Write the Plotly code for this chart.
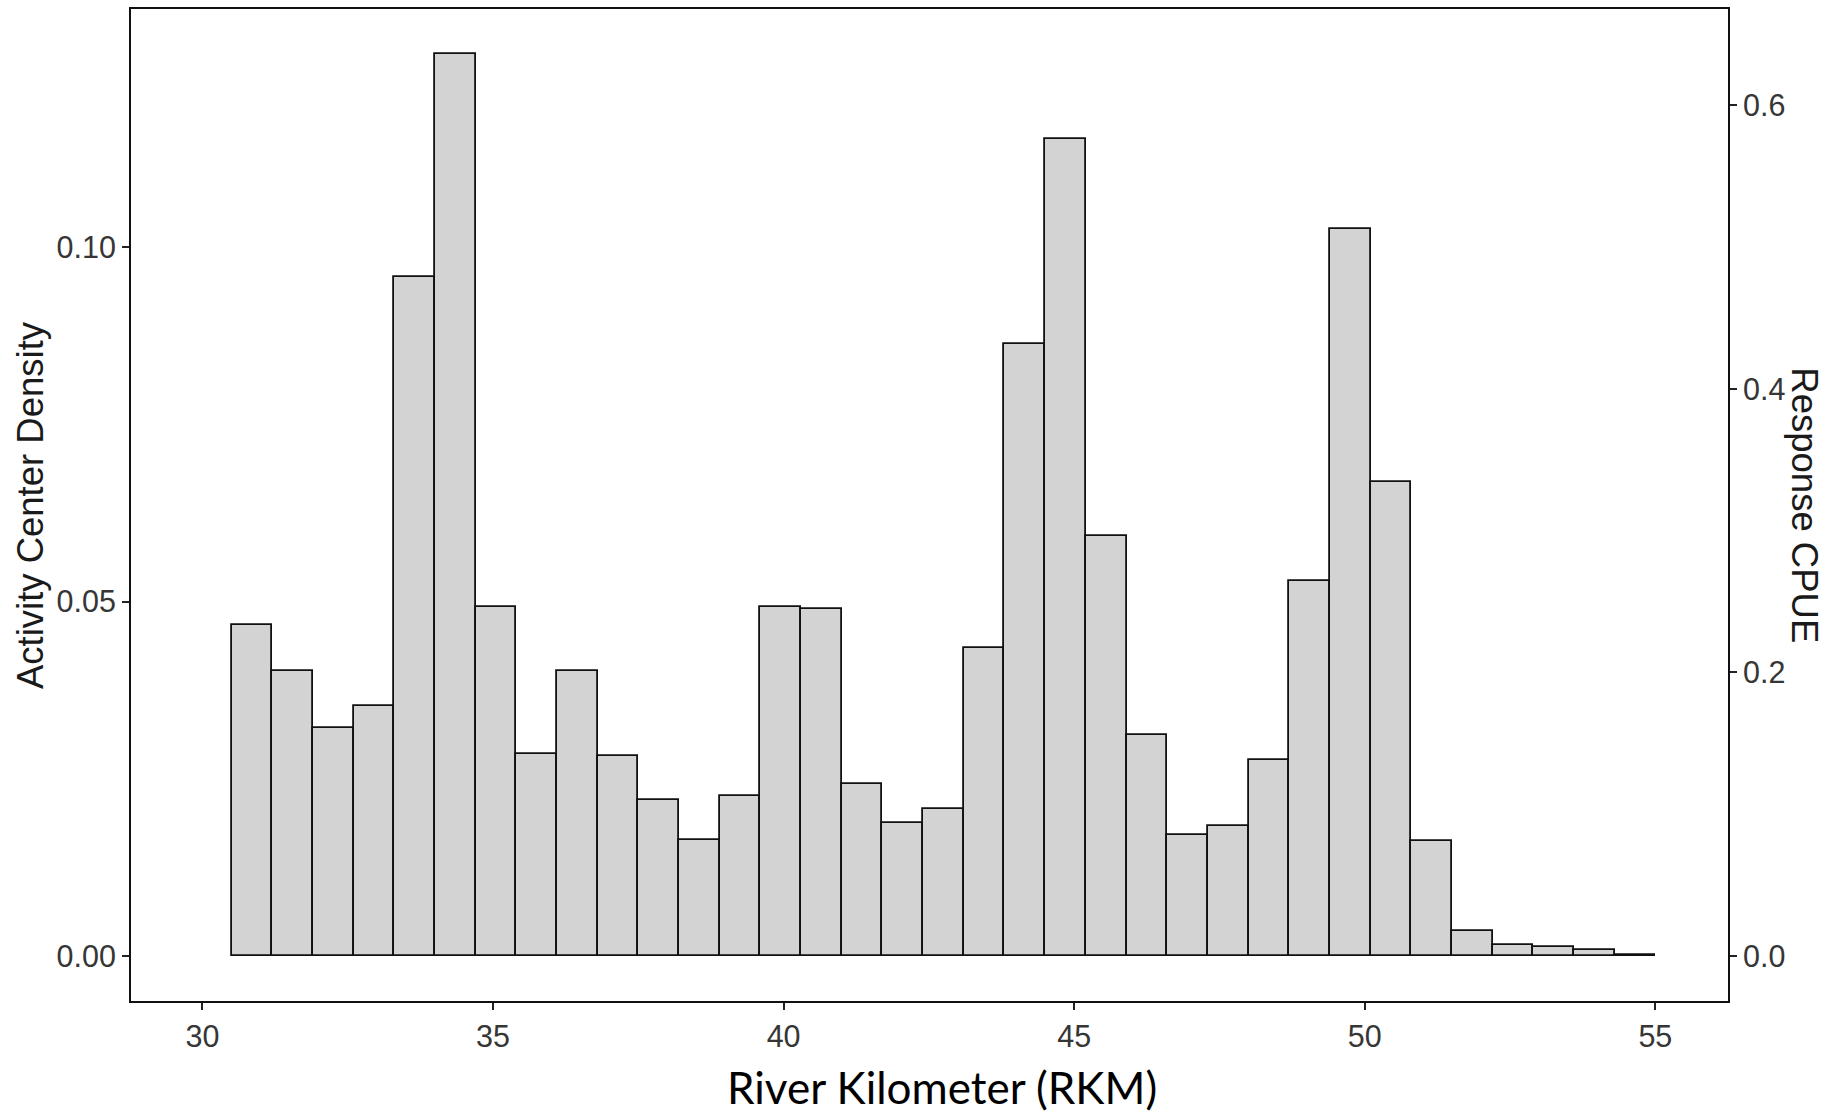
import plotly.graph_objects as go

# Histogram bins (lower edges, km) and densities
bin_left = [30.5, 31.2, 31.9, 32.6, 33.3, 34.0, 34.7, 35.4, 36.1, 36.8,
            37.5, 38.2, 38.9, 39.6, 40.3, 41.0, 41.7, 42.4, 43.1, 43.8,
            44.5, 45.2, 45.9, 46.6, 47.3, 48.0, 48.7, 49.4, 50.1, 50.8,
            51.5, 52.2, 52.9, 53.6, 54.3]
bin_width = 0.7
density = [0.0467, 0.0402, 0.0321, 0.0353, 0.0958, 0.1272, 0.0493, 0.0285, 0.0402, 0.0282,
           0.0220, 0.0164, 0.0226, 0.0493, 0.0490, 0.0243, 0.0188, 0.0207, 0.0435, 0.0864,
           0.1153, 0.0593, 0.0311, 0.0171, 0.0184, 0.0276, 0.0529, 0.1026, 0.0668, 0.0162,
           0.0035, 0.0016, 0.0012, 0.0009, 0.0002]

x_ticks = [30, 35, 40, 45, 50, 55]
y_ticks = [0.00, 0.05, 0.10]
y2_ticks = [0.0, 0.2, 0.4, 0.6]
sec_scale = 5  # Response CPUE = 5 x density

y_range = [-0.00636, 0.1336]
x_range = [28.77, 56.25]

tick_font = dict(family="Liberation Sans, Arial, sans-serif", size=30.5, color="#363636")
title_font = dict(family="Liberation Sans, Arial, sans-serif", size=36.5, color="#1a1a1a")

fig = go.Figure()
fig.add_trace(go.Bar(
    x=bin_left, y=density, width=bin_width, offset=0,
    marker=dict(color="#D3D3D3", line=dict(color="#111111", width=1.8)),
    showlegend=False, hoverinfo="skip",
))
# invisible trace to anchor secondary axis
fig.add_trace(go.Scatter(
    x=[x_range[0]], y=[0], yaxis="y2", mode="markers",
    marker=dict(opacity=0), showlegend=False, hoverinfo="skip",
))

axis_common = dict(
    showgrid=False, zeroline=False, showline=True, linecolor="#111111", linewidth=2,
    ticks="outside", ticklen=7, tickwidth=2, tickcolor="#222222", tickfont=tick_font,
)

fig.update_layout(
    width=1833, height=1112,
    margin=dict(l=131, r=105, t=7, b=111),
    paper_bgcolor="white", plot_bgcolor="white",
    bargap=0,
    xaxis=dict(range=x_range, tickvals=x_ticks, ticktext=[str(v) for v in x_ticks],
               mirror=True, **axis_common),
    yaxis=dict(range=y_range, tickvals=y_ticks, ticktext=[f"{v:.2f}" for v in y_ticks],
               mirror=True, **axis_common),
    yaxis2=dict(range=[v * sec_scale for v in y_range], tickvals=y2_ticks,
                ticktext=[f"{v:.1f}" for v in y2_ticks],
                overlaying="y", side="right", **axis_common),
    annotations=[
        dict(text="Activity Center Density", xref="paper", yref="paper",
             x=-0.0632, y=0.5, xanchor="center", yanchor="middle",
             textangle=-90, showarrow=False, font=title_font),
        dict(text="Response CPUE", xref="paper", yref="paper",
             x=1.048, y=0.5, xanchor="center", yanchor="middle",
             textangle=90, showarrow=False, font=title_font),
        dict(text="River Kilometer (RKM)", xref="paper", yref="paper",
             x=0.508, y=-0.087, xanchor="center", yanchor="middle",
             showarrow=False,
             font=dict(family="Lato, Open Sans, sans-serif", size=44, color="#000000")),
    ],
)

fig.write_html("out.html")
